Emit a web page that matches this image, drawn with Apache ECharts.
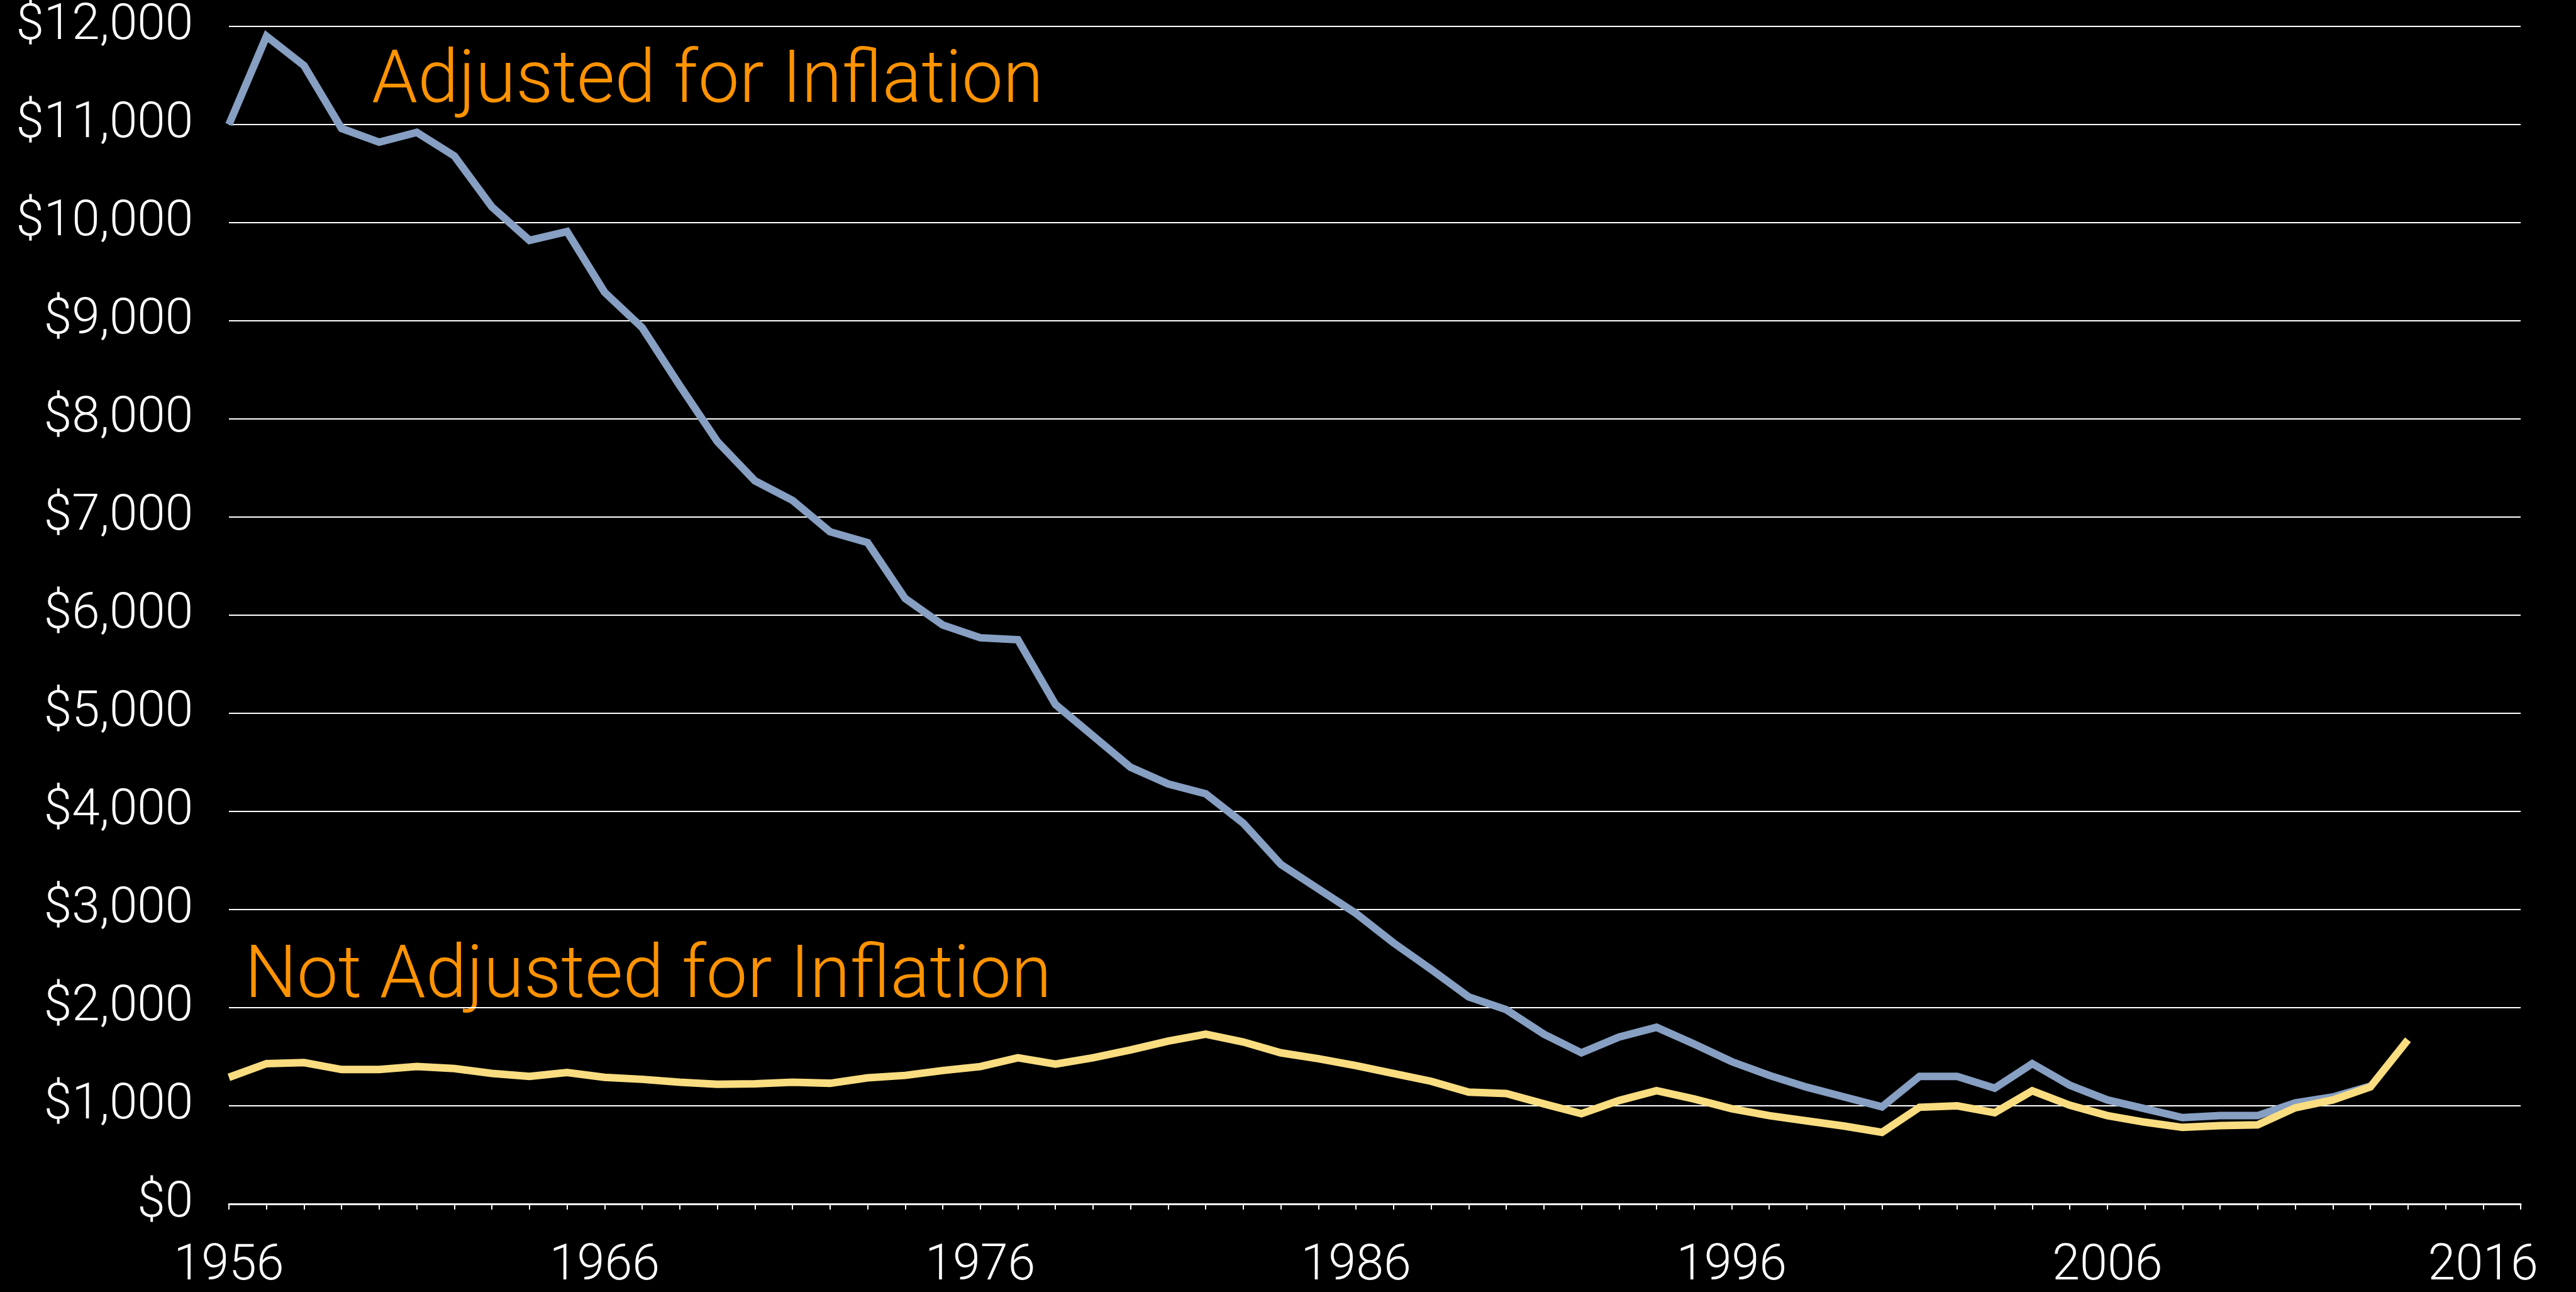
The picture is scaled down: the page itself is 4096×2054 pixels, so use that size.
<!DOCTYPE html>
<html>
<head>
<meta charset="utf-8">
<script src="https://cdn.jsdelivr.net/npm/echarts@6/dist/echarts.min.js"></script>
<style>
  html, body { margin: 0; padding: 0; background: #000; }
  #main { width: 4096px; height: 2054px; }
</style>
</head>
<body>
<div id="main"></div>
<script>
// years on the axis: 1956 .. 2017 (axis runs one year past the last label)
var firstYear = 1956;
var lastYear = 2017;
var years = [];
for (var y = firstYear; y <= lastYear; y++) years.push(String(y));

// adjusted for inflation, 1956 - 2013
var adjusted = [
    11000, 11900, 11600, 10960, 10820, 10920, 10680, 10160, 9820, 9910,
    9290, 8930, 8340, 7770, 7370, 7170, 6850, 6740, 6170, 5900,
    5770, 5750, 5090, 4770, 4450, 4280, 4180, 3880, 3460, 3210,
    2960, 2660, 2390, 2110, 1980, 1730, 1540, 1700, 1800, 1630,
    1450, 1310, 1190, 1090, 990, 1300, 1300, 1180, 1430, 1210,
    1060, 970, 880, 900, 900, 1030, 1090, 1200
];

// not adjusted for inflation, 1956 - 2014
var notAdjusted = [
    1290, 1430, 1440, 1370, 1370, 1400, 1380, 1330, 1300, 1340,
    1290, 1270, 1240, 1220, 1225, 1240, 1230, 1285, 1310, 1360,
    1400, 1490, 1425, 1490, 1570, 1660, 1730, 1650, 1540, 1480,
    1410, 1330, 1250, 1140, 1125, 1020, 920, 1054, 1154, 1070,
    970, 900, 846, 793, 730, 985, 1000, 930, 1153, 1006,
    900, 833, 780, 798, 806, 980, 1060, 1193, 1673
];

var labelFont = 'Roboto';
var myChart = echarts.init(document.getElementById('main'));

var option = {
    backgroundColor: '#000',
    animation: false,
    grid: {
        left: 364,
        right: 88,
        top: 42,
        bottom: 134
    },
    xAxis: {
        type: 'category',
        data: years,
        boundaryGap: false,
        axisLine: { lineStyle: { color: '#fff', width: 3 } },
        axisTick: {
            interval: 0,
            length: 9,
            lineStyle: { color: '#fff', width: 2 }
        },
        axisLabel: {
            interval: 9,
            margin: 61,
            color: '#fff',
            fontFamily: labelFont,
            fontWeight: 300,
            fontSize: 79
        },
        splitLine: { show: false }
    },
    yAxis: {
        type: 'value',
        min: 0,
        max: 12000,
        interval: 1000,
        axisLine: { show: false },
        axisTick: { show: false },
        axisLabel: {
            margin: 57,
            padding: [16, 0, 0, 0],
            color: '#fff',
            fontFamily: labelFont,
            fontWeight: 300,
            fontSize: 80,
            formatter: function (v) {
                return '$' + v.toLocaleString('en-US');
            }
        },
        splitLine: { lineStyle: { color: '#fff', width: 2 } }
    },
    graphic: [
        {
            type: 'text',
            left: 591,
            top: 74,
            style: {
                text: 'Adjusted for Inflation',
                fill: '#ff9300',
                font: '300 117px Roboto'
            }
        },
        {
            type: 'text',
            left: 389,
            top: 1497,
            style: {
                text: 'Not Adjusted for Inflation',
                fill: '#ff9300',
                font: '300 117px Roboto'
            }
        }
    ],
    series: [
        {
            name: 'Adjusted for Inflation',
            type: 'line',
            data: adjusted,
            showSymbol: false,
            lineStyle: { color: '#869fc2', width: 12, join: 'miter', cap: 'butt' }
        },
        {
            name: 'Not Adjusted for Inflation',
            type: 'line',
            data: notAdjusted,
            showSymbol: false,
            lineStyle: { color: '#f9dd80', width: 12, join: 'miter', cap: 'butt' }
        }
    ]
};

myChart.setOption(option);
</script>
</body>
</html>
